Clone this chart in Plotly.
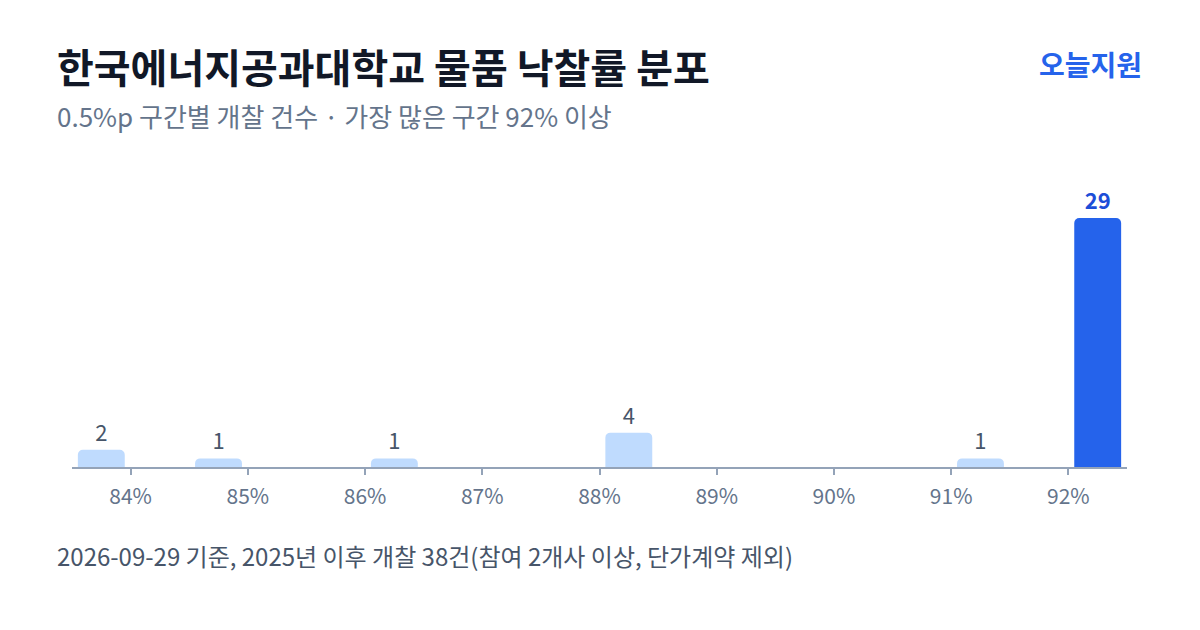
import plotly.graph_objects as go

bin_start = [83.5, 84.5, 86.0, 88.0, 91.0, 92.0]
counts = [2, 1, 1, 4, 1, 29]
tick_vals = [84, 85, 86, 87, 88, 89, 90, 91, 92]
tick_text = ["84%", "85%", "86%", "87%", "88%", "89%", "90%", "91%", "92%"]
title = "한국에너지공과대학교 물품 낙찰률 분포"
subtitle = "0.5%p 구간별 개찰 건수 · 가장 많은 구간 92% 이상"
footer = "2026-09-29 기준, 2025년 이후 개찰 38건(참여 2개사 이상, 단가계약 제외)"
brand = "오늘지원"

FONT = "Noto Sans CJK KR"
OFF = 8  # page offset of the figure in the browser
W, Hh = 1200, 630
L, R, T, B = 72 - OFF, W - (1127 - OFF), 180 - OFF, Hh - (467 - OFF)

top_idx = counts.index(max(counts))
x_centers = [b + 0.25 for b in bin_start]
colors = ["#2563eb" if i == top_idx else "#bfdbfe" for i in range(len(counts))]
text_colors = ["#1d4ed8" if i == top_idx else "#475569" for i in range(len(counts))]
text_fonts_w = [700 if i == top_idx else 400 for i in range(len(counts))]

fig = go.Figure()
fig.add_trace(go.Bar(
    x=x_centers, y=counts, width=0.4,
    marker=dict(color=colors, line=dict(width=0)),
    text=[str(c) for c in counts], textposition="outside",
    textfont=dict(family=FONT, size=22, color=text_colors, weight=text_fonts_w),
    cliponaxis=False, hoverinfo="skip",
))

fig.update_layout(
    width=W, height=Hh,
    margin=dict(l=L, r=R, t=T, b=B),
    paper_bgcolor="white", plot_bgcolor="white",
    barcornerradius=5,
    showlegend=False,
    font=dict(family=FONT),
    xaxis=dict(range=[83.5, 92.5], tickvals=tick_vals, ticktext=tick_text,
               showgrid=False, zeroline=False, showline=True, linecolor="#94a3b8", linewidth=2,
               ticks="outside", ticklen=6, tickwidth=2, tickcolor="#94a3b8",
               ticklabelstandoff=4,
               tickfont=dict(family=FONT, size=21, color="#64748b")),
    yaxis=dict(range=[0, 33.43], visible=False, showgrid=False, zeroline=False),
)

PH = Hh - T - B
PW = W - L - R
def ypix(p):  # reference pixel-from-top -> paper coordinate
    return (Hh - B - (p - OFF)) / PH
def xpix(p):
    return ((p - OFF) - L) / PW

fig.add_annotation(text=title, xref="paper", yref="paper", x=xpix(55), y=ypix(66),
                   xanchor="left", yanchor="middle", showarrow=False,
                   font=dict(family=FONT, size=40, color="#111827", weight=700))
fig.add_annotation(text=subtitle, xref="paper", yref="paper", x=xpix(55), y=ypix(115),
                   xanchor="left", yanchor="middle", showarrow=False,
                   font=dict(family=FONT, size=26, color="#64748b"))
fig.add_annotation(text=brand, xref="paper", yref="paper", x=xpix(1144), y=ypix(64),
                   xanchor="right", yanchor="middle", showarrow=False,
                   font=dict(family=FONT, size=28, color="#2563eb", weight=700))
fig.add_annotation(text=footer, xref="paper", yref="paper", x=xpix(55), y=ypix(555),
                   xanchor="left", yanchor="middle", showarrow=False,
                   font=dict(family=FONT, size=24, color="#475569"))

fig.write_html("out.html")
